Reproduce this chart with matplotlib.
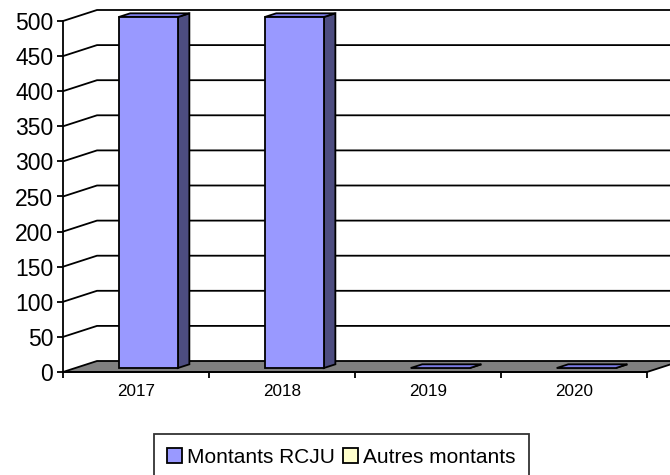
import matplotlib
matplotlib.use("Agg")
import matplotlib.pyplot as plt
from matplotlib.patches import Polygon, Rectangle

plt.rcParams['font.family'] = ['Liberation Sans', 'DejaVu Sans']

categories = ['2017', '2018', '2019', '2020']
montants_rcju = [500, 500, 0, 0]
autres_montants = [None, None, None, None]
series_names = ['Montants RCJU', 'Autres montants']
y_ticks = [0, 50, 100, 150, 200, 250, 300, 350, 400, 450, 500]

FRONT = '#9999FF'
SIDE = '#4D4D80'
TOP = '#7C7CE6'
FLOOR = '#808080'
YELLOW = '#FFFFCC'
LW = 1.3

W, H = 670, 475
fig = plt.figure(figsize=(W / 100, H / 100), dpi=100)
ax = fig.add_axes([63 / W, (H - 372) / H, 584 / W, 351 / H])
n = len(categories)
ax.set_xlim(-0.5, n - 0.5)
ax.set_ylim(0, 500)

# depth offsets in data units
DX = 34 / 146.0
DV = 11 / (351 / 500.0)
XFAR = n - 0.5 + 1.0

# back wall gridlines
for v in y_ticks[1:]:
    ax.plot([-0.5, -0.5 + DX, XFAR], [v, v + DV, v + DV], color='black',
            lw=LW, clip_on=False, zorder=1, solid_capstyle='butt')

# floor
floor = Polygon([(-0.5, 0), (n - 0.5, 0), (n - 0.5 + DX, DV), (-0.5 + DX, DV)],
                closed=True, facecolor=FLOOR, edgecolor='black', lw=LW,
                clip_on=False, zorder=2)
ax.add_patch(floor)

# bars
f0, f1 = 0.36, 0.70
bw = 0.405
for i, h in enumerate(montants_rcju):
    if h is None:
        continue
    x0 = i - bw / 2 + f0 * DX
    x1 = i + bw / 2 + f0 * DX
    y0 = f0 * DV
    y1 = y0 + h
    ddx = (f1 - f0) * DX
    ddv = (f1 - f0) * DV
    side = Polygon([(x1, y0), (x1 + ddx, y0 + ddv), (x1 + ddx, y1 + ddv), (x1, y1)],
                   closed=True, facecolor=SIDE, edgecolor='black', lw=LW,
                   clip_on=False, zorder=3, joinstyle='miter')
    top = Polygon([(x0, y1), (x1, y1), (x1 + ddx, y1 + ddv), (x0 + ddx, y1 + ddv)],
                  closed=True, facecolor=TOP, edgecolor='black', lw=LW,
                  clip_on=False, zorder=3, joinstyle='miter')
    ax.add_patch(side)
    ax.add_patch(top)
    if h > 0:
        front = Rectangle((x0, y0), x1 - x0, h, facecolor=FRONT, edgecolor='black',
                          lw=LW, clip_on=False, zorder=4, joinstyle='miter')
        ax.add_patch(front)

# axes styling
for s in ['top', 'right']:
    ax.spines[s].set_visible(False)
ax.spines['left'].set_linewidth(LW)
ax.spines['bottom'].set_linewidth(LW)
ax.spines['left'].set_zorder(5)
ax.spines['bottom'].set_zorder(5)
ax.patch.set_visible(False)

ax.set_yticks(y_ticks)
ax.set_yticklabels([str(v) for v in y_ticks], fontsize=16.5)
ax.tick_params(axis='y', direction='out', length=4.5, width=LW, pad=2.5)

ax.set_xticks(range(n))
ax.set_xticklabels(categories, fontsize=12.3)
ax.set_xticks([k - 0.5 for k in range(n + 1)], minor=True)
ax.tick_params(axis='x', which='major', length=0, pad=9)
ax.tick_params(axis='x', which='minor', direction='out', length=4.5, width=LW)

# legend
handles = [Rectangle((0, 0), 1, 1, facecolor=FRONT, edgecolor='black', lw=LW),
           Rectangle((0, 0), 1, 1, facecolor=YELLOW, edgecolor='black', lw=LW)]
leg = fig.legend(handles, series_names, loc='upper center',
                 bbox_to_anchor=(341.5 / W, 1 - 434 / H), ncol=2,
                 fontsize=15, frameon=True, fancybox=False, shadow=False,
                 handlelength=0.7, handleheight=0.7, handletextpad=0.25,
                 columnspacing=0.4, borderpad=0.65, borderaxespad=0)
leg.get_frame().set_edgecolor('black')
leg.get_frame().set_linewidth(LW)

fig.savefig('out.png', dpi=100)
